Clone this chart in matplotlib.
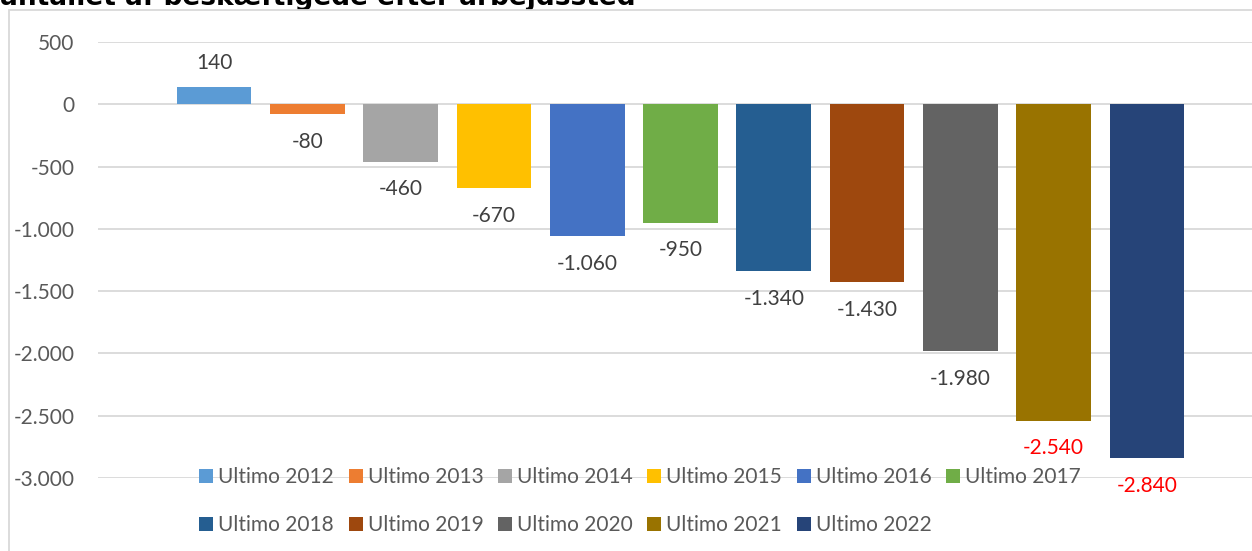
import matplotlib.pyplot as plt
import numpy as np
from matplotlib.patches import Rectangle

plt.rcParams['font.family'] = ['Lato', 'DejaVu Sans']

# data
labels = ['Ultimo 2012', 'Ultimo 2013', 'Ultimo 2014', 'Ultimo 2015', 'Ultimo 2016', 'Ultimo 2017',
          'Ultimo 2018', 'Ultimo 2019', 'Ultimo 2020', 'Ultimo 2021', 'Ultimo 2022']
values = [140, -80, -460, -670, -1060, -950, -1340, -1430, -1980, -2540, -2840]
colors = ['#5B9BD5', '#ED7D31', '#A5A5A5', '#FFC000', '#4472C4', '#70AD47',
          '#255E91', '#9E480E', '#636363', '#997300', '#264478']
yticks = [500, 0, -500, -1000, -1500, -2000, -2500, -3000]

W, H = 1252, 551
fig = plt.figure(figsize=(W / 100, H / 100), dpi=100)

# axes in pixel terms: left 98, right 1252, top 42 (=500), bottom 478 (=-3000)
ax = fig.add_axes([98 / W, 1 - 478 / H, (W - 98) / W, (478 - 42) / H])
ax.set_zorder(1)
ax.patch.set_visible(False)

x = np.arange(len(values))
bars = []
for i in range(len(values)):
    b = ax.bar(x[i], values[i], width=0.8, color=colors[i], label=labels[i], zorder=3)
    bars.append(b[0])

# data labels
for i, v in enumerate(values):
    col = 'red' if v < -2500 else '#404040'
    off = 17 if v > 0 else -20
    ax.annotate(f"{v:,}".replace(',', '.'), xy=(x[i], v), xytext=(0, off),
                textcoords='offset points', ha='center', va='center',
                fontsize=15, color=col)

ax.set_ylim(-3000, 500)
ax.set_xlim(-(214 - 98) / 93.3, (W - 214) / 93.3)
ax.set_yticks(yticks)
ax.set_yticklabels([f"{t:,}".replace(',', '.') for t in yticks])
ax.tick_params(axis='y', length=0, pad=17, labelsize=15, labelcolor='#595959')
ax.set_xticks([])
ax.grid(axis='y', color='#d9d9d9', linewidth=1.3, zorder=0)
for s in ax.spines.values():
    s.set_visible(False)

# legend: two rows, 2012-2017 on top, 2018-2022 below
order = [0, 6, 1, 7, 2, 8, 3, 9, 4, 10, 5]
leg = fig.legend([bars[i] for i in order], [labels[i] for i in order], ncol=6,
                 loc='center', bbox_to_anchor=(640 / W, 1 - 501 / H),
                 frameon=False, fontsize=15, labelcolor='#595959',
                 handlelength=0.67, handleheight=0.67, handletextpad=0.24,
                 columnspacing=0.7, labelspacing=1.34, borderpad=0)
leg.set_zorder(2)

# chart frame (white chart area hides the lower part of the title)
fig.patches.append(Rectangle((9 / W, -0.1), 1.2, 1 - 10 / H + 0.1, transform=fig.transFigure,
                             facecolor='white', edgecolor='#d9d9d9', linewidth=1.3, zorder=0.5))

# title, cut off at the top
fig.text(0, 1 - 5 / H, 'antallet af beskæftigede efter arbejdssted', family='DejaVu Sans',
         fontweight='bold', fontsize=19, ha='left', va='baseline', color='black', zorder=0.2)

fig.savefig('out.png', dpi=100)
